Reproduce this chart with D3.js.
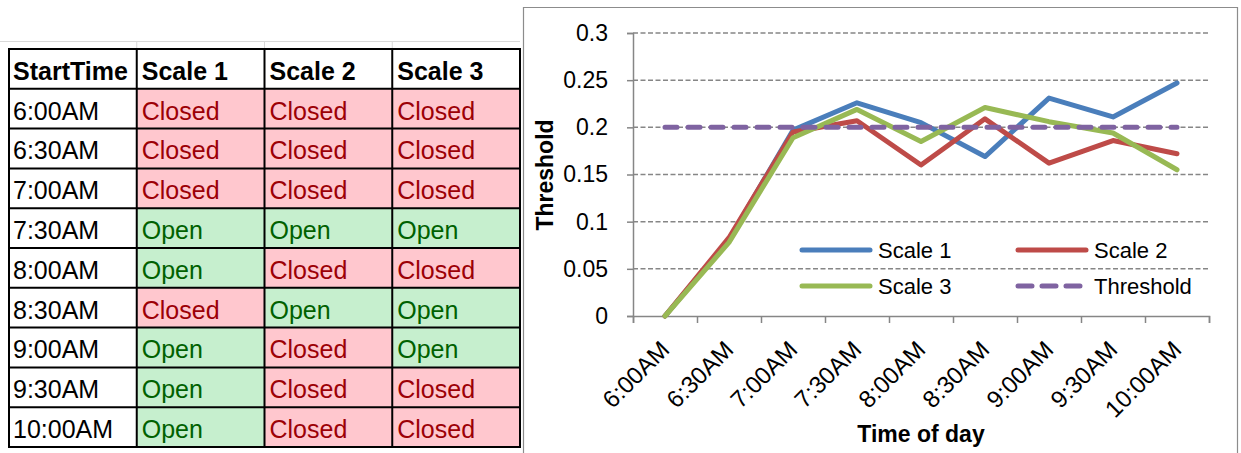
<!DOCTYPE html>
<html>
<head>
<meta charset="utf-8">
<script src="https://cdn.jsdelivr.net/npm/d3@7"></script>
<style>
  body { margin: 0; background: #fff; }
  svg { display: block; font-family: "Liberation Sans", Arial, sans-serif; }
</style>
</head>
<body>
<svg id="chart" width="1241" height="453"></svg>
<script>
// ---- data ----
const times = ["6:00AM", "6:30AM", "7:00AM", "7:30AM", "8:00AM", "8:30AM", "9:00AM", "9:30AM", "10:00AM"];
const headers = ["StartTime", "Scale 1", "Scale 2", "Scale 3"];
const status1 = ["Closed", "Closed", "Closed", "Open", "Open", "Closed", "Open", "Open", "Open"];
const status2 = ["Closed", "Closed", "Closed", "Open", "Closed", "Open", "Closed", "Closed", "Closed"];
const status3 = ["Closed", "Closed", "Closed", "Open", "Closed", "Open", "Open", "Closed", "Closed"];

const scale1 = [0, 0.081, 0.197, 0.226, 0.205, 0.169, 0.231, 0.211, 0.247];
const scale2 = [0, 0.083, 0.195, 0.207, 0.160, 0.209, 0.162, 0.186, 0.172];
const scale3 = [0, 0.078, 0.189, 0.219, 0.185, 0.221, 0.206, 0.194, 0.155];
const threshold = [0.2, 0.2, 0.2, 0.2, 0.2, 0.2, 0.2, 0.2, 0.2];
const yTicks = [0, 0.05, 0.1, 0.15, 0.2, 0.25, 0.3];

const svg = d3.select("#chart");

/*****************
***** TABLE *****
*****************/

const colX = d3.scaleBand().domain(headers).range([9, 520]);
const rowY = d3.scaleBand().domain(d3.range(times.length + 1)).range([49, 447]);

// faint sheet gridlines above the table
const sheet = svg.append("g").attr("stroke", "#d9d9d9").attr("stroke-width", 1);
sheet.append("line").attr("x1", 0).attr("x2", 520).attr("y1", 41.5).attr("y2", 41.5);
headers.slice(1).forEach(h => {
  sheet.append("line").attr("x1", colX(h)).attr("x2", colX(h)).attr("y1", 41).attr("y2", 49);
});

const rows = [headers].concat(times.map((t, i) => [t, status1[i], status2[i], status3[i]]));

const fills = {Closed: "#ffc7ce", Open: "#c6efce"};
const inks = {Closed: "#9c0006", Open: "#006100"};

const table = svg.append("g").attr("id", "table");
rows.forEach((row, r) => {
  row.forEach((val, c) => {
    const isHead = r === 0;
    const isStatus = !isHead && c > 0;
    table.append("rect")
      .attr("x", colX(headers[c]))
      .attr("y", rowY(r))
      .attr("width", colX.bandwidth())
      .attr("height", rowY.bandwidth())
      .attr("fill", isStatus ? fills[val] : "#fff");
    table.append("text")
      .attr("x", colX(headers[c]) + (c === 0 ? 4 : 5))
      .attr("y", rowY(r) + rowY.bandwidth() - 9)
      .attr("font-size", 25)
      .attr("font-weight", isHead ? "bold" : "normal")
      .attr("fill", isStatus ? inks[val] : "#000")
      .text(val);
  });
});

// borders
const grid = table.append("g").attr("stroke", "#000").attr("stroke-width", 2);
d3.range(rows.length + 1).forEach(r => {
  const y = r < rows.length ? rowY(r) : 447;
  grid.append("line").attr("x1", 8).attr("x2", 521).attr("y1", y).attr("y2", y);
});
headers.concat(["end"]).forEach(h => {
  const x = h === "end" ? 520 : colX(h);
  grid.append("line").attr("x1", x).attr("x2", x).attr("y1", 49).attr("y2", 447);
});

/*****************
***** CHART *****
*****************/

// chart area frame
svg.append("path")
  .attr("d", "M523.5,453 V7.5 H1237.5 V453")
  .attr("fill", "none")
  .attr("stroke", "#8c8c8c")
  .attr("stroke-width", 1.2);

const x = d3.scaleBand().domain(times).range([633, 1209]);
const xTick = d3.scaleLinear().domain([0, times.length]).range([633, 1209]);
const y = d3.scaleLinear().domain([0, 0.3]).range([316, 33]);
const cx = t => x(t) + x.bandwidth() / 2;

// gridlines
svg.append("g")
  .selectAll("line")
  .data(yTicks.filter(v => v > 0))
  .join("line")
  .attr("x1", 633).attr("x2", 1209)
  .attr("y1", d => y(d)).attr("y2", d => y(d))
  .attr("stroke", "#868686")
  .attr("stroke-width", 1.5)
  .attr("stroke-dasharray", "5,2.5");

// y axis
const yAxis = svg.append("g")
  .attr("transform", "translate(633,0)")
  .call(d3.axisLeft(y).tickValues(yTicks).tickSize(6).tickPadding(19)
    .tickFormat(d => String(+d.toFixed(2))));
yAxis.select(".domain").attr("stroke", "#868686").attr("stroke-width", 1.5);
yAxis.selectAll(".tick line").attr("stroke", "#868686").attr("stroke-width", 1.5);
yAxis.selectAll("text").attr("font-size", 23).attr("fill", "#000").attr("font-family", null);

// x axis
const xAxis = svg.append("g")
  .attr("transform", "translate(0,316)")
  .call(d3.axisBottom(xTick).tickValues(d3.range(times.length + 1)).tickSize(7).tickFormat(""));
xAxis.select(".domain").attr("stroke", "#868686").attr("stroke-width", 1.5);
xAxis.selectAll(".tick line").attr("stroke", "#868686").attr("stroke-width", 1.5);

svg.append("g")
  .selectAll("text")
  .data(times)
  .join("text")
  .attr("transform", d => `translate(${cx(d) + 6},${351}) rotate(-45)`)
  .attr("text-anchor", "end")
  .attr("font-size", 24)
  .attr("fill", "#000")
  .text(d => d);

// lines
const series = [
  {name: "Scale 1", values: scale1, color: "#4a7ebb", dash: null},
  {name: "Scale 2", values: scale2, color: "#be4b48", dash: null},
  {name: "Scale 3", values: scale3, color: "#98b954", dash: null},
  {name: "Threshold", values: threshold, color: "#7f63a1", dash: "12,11"}
];

const line = d3.line()
  .x((d, i) => cx(times[i]))
  .y(d => y(d));

svg.append("g")
  .selectAll("path")
  .data(series)
  .join("path")
  .attr("d", d => line(d.values))
  .attr("fill", "none")
  .attr("stroke", d => d.color)
  .attr("stroke-width", 5)
  .attr("stroke-linejoin", "round")
  .attr("stroke-linecap", "round")
  .attr("stroke-dasharray", d => d.dash);

// legend
const legendPos = [[800, 250], [1016, 250], [800, 286], [1016, 286]];
const legend = svg.append("g")
  .selectAll("g")
  .data(series)
  .join("g")
  .attr("transform", (d, i) => `translate(${legendPos[i][0]},${legendPos[i][1]})`);
legend.append("line")
  .attr("x1", 2).attr("x2", 70)
  .attr("stroke", d => d.color)
  .attr("stroke-width", 5)
  .attr("stroke-linecap", "round")
  .attr("stroke-dasharray", d => d.dash ? "14,10" : null);
legend.append("text")
  .attr("x", 78)
  .attr("dy", "0.35em")
  .attr("font-size", 22)
  .attr("fill", "#000")
  .text(d => d.name);

// axis titles
svg.append("text")
  .attr("x", 921).attr("y", 442)
  .attr("text-anchor", "middle")
  .attr("font-size", 23)
  .attr("font-weight", "bold")
  .text("Time of day");

svg.append("text")
  .attr("transform", "translate(553,175) rotate(-90)")
  .attr("text-anchor", "middle")
  .attr("font-size", 23)
  .attr("font-weight", "bold")
  .text("Threshold");
</script>
</body>
</html>
